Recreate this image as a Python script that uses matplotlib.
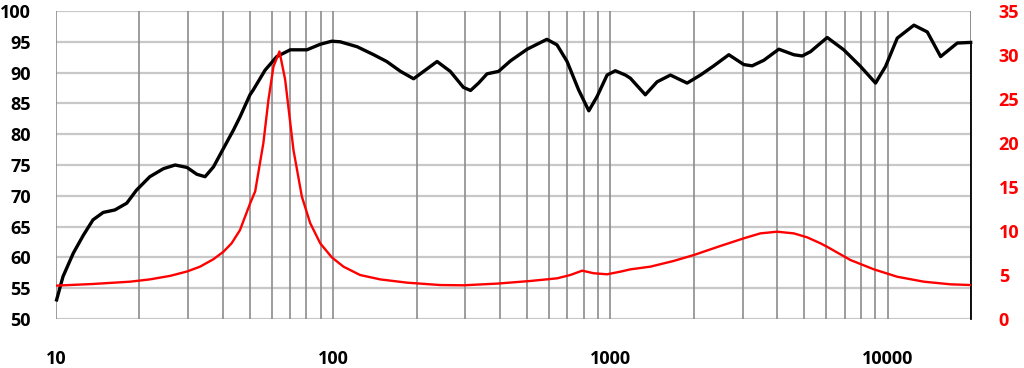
import matplotlib.pyplot as plt
import numpy as np

# SPL response (dB), left axis
spl_freq = [10.05, 10.6, 11.55, 12.55, 13.6, 14.8, 16.3, 18.0, 19.5, 21.8, 24.4, 26.9, 29.7,
            32.2, 34.5, 37, 40.2, 43.7, 46.1, 50.1, 51.5, 56.8, 62.6, 70, 80.4, 89.8, 98.9,
            106, 122, 140, 156, 175, 195, 212, 237, 264.5, 295, 313, 334.6, 359, 395, 436,
            501, 590, 642, 698, 768, 836, 895, 973, 1042, 1133, 1180, 1337, 1474, 1647, 1892,
            2113, 2361, 2675, 3030, 3247, 3577, 4052, 4590, 4920, 5272, 6057, 6950, 7989,
            9050, 9835, 10840, 12450, 13910, 15540, 17850, 19950, 19950]
spl_db = [53.1, 56.9, 60.7, 63.6, 66.1, 67.3, 67.7, 68.8, 70.9, 73.1, 74.4, 75.0, 74.6,
          73.5, 73.1, 74.7, 77.7, 80.7, 82.8, 86.4, 87.2, 90.4, 92.6, 93.7, 93.7, 94.6, 95.1,
          95.0, 94.2, 92.9, 91.8, 90.2, 89.0, 90.2, 91.8, 90.2, 87.6, 87.1, 88.3, 89.8, 90.2,
          91.9, 93.8, 95.4, 94.5, 91.8, 87.2, 83.8, 86.1, 89.6, 90.3, 89.6, 89.1, 86.4, 88.5,
          89.6, 88.3, 89.6, 91.1, 92.9, 91.3, 91.1, 92.0, 93.8, 92.9, 92.7, 93.4, 95.7, 93.7,
          91.0, 88.3, 91.0, 95.6, 97.7, 96.6, 92.6, 94.8, 94.9, 50.0]

# Impedance (ohm), right axis
imp_freq = [10, 13.6, 18.5, 21.8, 25.8, 29.7, 33.1, 37, 40.2, 43.0, 46.1, 50.1, 52.3, 56,
            58.4, 60.9, 64.0, 67.1, 71.9, 77.1, 82.6, 89.8, 98.9, 108.9, 125, 147.8, 184.5,
            243, 295, 390, 514, 642, 717, 791, 871, 973, 1087, 1180, 1395, 1693, 2000, 2495,
            3030, 3475, 3997, 4590, 5128, 5728, 6057, 7350, 8930, 10840, 13520, 16880, 19950]
imp_ohm = [3.79, 3.98, 4.24, 4.5, 4.9, 5.4, 5.95, 6.8, 7.65, 8.6, 10.1, 13.1, 14.5, 20.0,
           24.9, 28.7, 30.4, 27.2, 19.2, 13.9, 10.9, 8.6, 7.0, 5.95, 5.0, 4.5, 4.13,
           3.86, 3.83, 4.02, 4.32, 4.62, 5.0, 5.49, 5.2, 5.08, 5.38, 5.64, 5.95, 6.6, 7.27, 8.3,
           9.17, 9.73, 9.92, 9.73, 9.28, 8.6, 8.2, 6.7, 5.64, 4.8, 4.24, 3.94, 3.86]

x_ticks = [10, 100, 1000, 10000]
x_grid = [m * 10 ** d for d in range(1, 5) for m in range(1, 10)] + [20000]
x_grid = [v for v in x_grid if v <= 20000]
left_ticks = list(range(50, 101, 5))
right_ticks = list(range(0, 36, 5))

fig = plt.figure(figsize=(10.24, 3.68), dpi=100)
ax = fig.add_axes([56 / 1024, 49 / 368, 915 / 1024, 308 / 368])

ax.set_xscale('log')
ax.set_xlim(10, 20000)
ax.set_ylim(50, 100)

for v in left_ticks:
    ax.axhline(v, color='#c8c8c8', lw=1.6, zorder=0)
for v in x_grid:
    ax.axvline(v, color='#8c8c8c', lw=1.2, zorder=1)

# main curve thick, the end-of-sweep drop thin
ax.plot(spl_freq[:-1], spl_db[:-1], color='black', lw=2.4, zorder=3,
        solid_joinstyle='round', clip_on=False)
ax.plot(spl_freq[-2:], spl_db[-2:], color='black', lw=1.3, zorder=3, clip_on=False)

ax.set_xticks(x_ticks)
ax.set_xticklabels([str(v) for v in x_ticks])
ax.xaxis.set_minor_locator(plt.NullLocator())
ax.set_yticks(left_ticks)
ax.tick_params(axis='both', length=0, labelsize=13)
ax.tick_params(axis='x', pad=22)
ax.tick_params(axis='y', pad=18)
for lbl in ax.get_xticklabels() + ax.get_yticklabels():
    lbl.set_fontweight('bold')
    lbl.set_fontfamily('Open Sans')
for s in ax.spines.values():
    s.set_visible(False)

ax2 = ax.twinx()
ax2.set_ylim(0, 35)
ax2.plot(imp_freq, imp_ohm, color='#ff0000', lw=1.7, zorder=4, solid_joinstyle='round')
ax2.set_yticks(right_ticks)
ax2.tick_params(axis='y', length=0, labelsize=13, pad=20, labelcolor='#ff0000')
for lbl in ax2.get_yticklabels():
    lbl.set_fontweight('bold')
    lbl.set_fontfamily('Open Sans')
for s in ax2.spines.values():
    s.set_visible(False)

fig.savefig('out.png', dpi=100)
